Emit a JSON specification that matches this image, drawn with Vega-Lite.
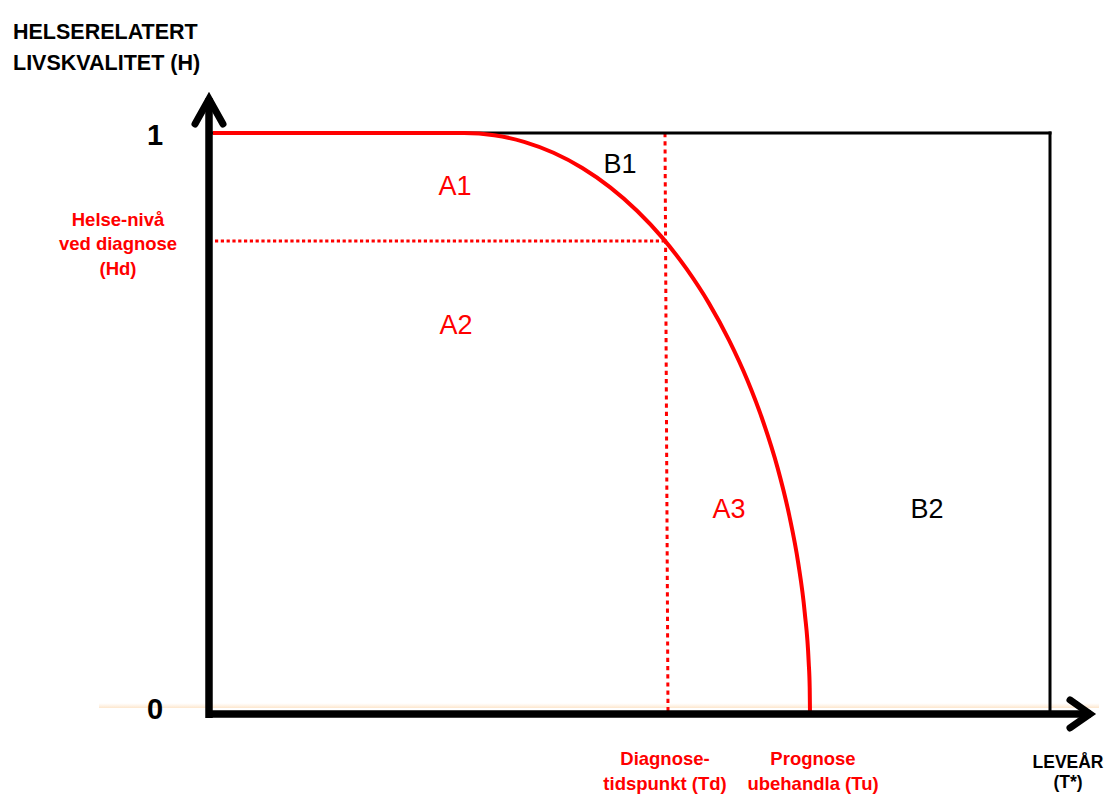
{
  "$schema": "https://vega.github.io/schema/vega-lite/v6.json",
  "width": 1106,
  "height": 794,
  "autosize": {"type": "none"},
  "padding": 0,
  "background": "white",
  "config": {"view": {"stroke": null}},
  "datasets": {
    "glow": [{"x": -1.1, "x2": 8.9, "y": 0.0086, "y2": 0.017}],
    "guides": [
      {"dir": "h", "x": 0.06, "y": 0.8138, "x2": 4.56, "y2": 0.8138},
      {"dir": "v", "x": 4.56, "y": 1.0, "x2": 4.59, "y2": 0.0}
    ],
    "frame": [
      {"x": 0.0, "y": 1.0, "x2": 8.41, "y2": 1.0},
      {"x": 8.41, "y": 1.0, "x2": 8.41, "y2": 0.0}
    ],
    "curve": [
      {"x": 0.04, "y": 1.0},
      {"x": 2.55, "y": 1.0},
      {"x": 2.852, "y": 0.9962},
      {"x": 3.151, "y": 0.9848},
      {"x": 3.445, "y": 0.9659},
      {"x": 3.733, "y": 0.9397},
      {"x": 4.012, "y": 0.9063},
      {"x": 4.28, "y": 0.866},
      {"x": 4.535, "y": 0.8192},
      {"x": 4.774, "y": 0.766},
      {"x": 4.997, "y": 0.7071},
      {"x": 5.2, "y": 0.6428},
      {"x": 5.384, "y": 0.5736},
      {"x": 5.546, "y": 0.5},
      {"x": 5.686, "y": 0.4226},
      {"x": 5.801, "y": 0.342},
      {"x": 5.892, "y": 0.2588},
      {"x": 5.957, "y": 0.1736},
      {"x": 5.997, "y": 0.0872},
      {"x": 6.007, "y": 0.0436},
      {"x": 6.01, "y": 0.0}
    ],
    "axes": [
      {"x": 0.0, "y": -0.0086, "x2": 0.0, "y2": 1.06},
      {"x": -0.03, "y": -0.0017, "x2": 8.82, "y2": -0.0017}
    ],
    "arrows": [
      {"arrow": "y", "o": 1, "x": -0.14, "y": 1.0155},
      {"arrow": "y", "o": 2, "x": 0.0, "y": 1.0586},
      {"arrow": "y", "o": 3, "x": 0.14, "y": 1.0155},
      {"arrow": "x", "o": 1, "x": 8.61, "y": 0.0224},
      {"arrow": "x", "o": 2, "x": 8.81, "y": -0.0017},
      {"arrow": "x", "o": 3, "x": 8.61, "y": -0.0258}
    ],
    "labels": [
      {"group": "title", "text": "HELSERELATERT\nLIVSKVALITET (H)", "x": -1.96, "y": 1.1621},
      {"group": "tick", "text": "1", "x": -0.54, "y": 0.9793},
      {"group": "tick", "text": "0", "x": -0.54, "y": -0.0103},
      {"group": "red", "text": "Helse-nivå\nved diagnose\n(Hd)", "x": -0.91, "y": 0.8397},
      {"group": "red", "text": "Diagnose-\ntidspunkt (Td)", "x": 4.56, "y": -0.0897},
      {"group": "red", "text": "Prognose\nubehandla (Tu)", "x": 6.04, "y": -0.0897},
      {"group": "xtitle", "text": "LEVEÅR\n(T*)", "x": 8.59, "y": -0.0948},
      {"group": "regionRed", "text": "A1", "x": 2.46, "y": 0.893},
      {"group": "regionRed", "text": "A2", "x": 2.47, "y": 0.653},
      {"group": "regionRed", "text": "A3", "x": 5.2, "y": 0.336},
      {"group": "regionBlack", "text": "B1", "x": 4.11, "y": 0.931},
      {"group": "regionBlack", "text": "B2", "x": 7.18, "y": 0.336}
    ]
  },
  "encoding": {
    "x": {"field": "x", "type": "quantitative", "scale": {"domain": [-2.09, 8.97], "nice": false, "zero": false}, "axis": null},
    "y": {"field": "y", "type": "quantitative", "scale": {"domain": [-0.1397, 1.2293], "nice": false, "zero": false}, "axis": null}
  },
  "layer": [
    {
      "data": {"name": "glow"},
      "mark": {"type": "rect", "fill": {"gradient": "linear", "x1": 0, "y1": 0, "x2": 0, "y2": 1, "stops": [{"offset": 0, "color": "rgba(253,235,214,0)"}, {"offset": 1, "color": "#fde6cc"}]}},
      "encoding": {"x2": {"field": "x2"}, "y2": {"field": "y2"}}
    },
    {
      "data": {"name": "guides"},
      "transform": [{"filter": "datum.dir == 'h'"}],
      "mark": {"type": "rule", "color": "#ff0000", "strokeWidth": 3, "strokeDash": [3.2, 2.6]},
      "encoding": {"x2": {"field": "x2"}, "y2": {"field": "y2"}}
    },
    {
      "data": {"name": "guides"},
      "transform": [{"filter": "datum.dir == 'v'"}],
      "mark": {"type": "rule", "color": "#ff0000", "strokeWidth": 3, "strokeDash": [4.2, 4]},
      "encoding": {"x2": {"field": "x2"}, "y2": {"field": "y2"}}
    },
    {
      "data": {"name": "frame"},
      "mark": {"type": "rule", "color": "#000000", "strokeWidth": 3, "strokeCap": "square"},
      "encoding": {"x2": {"field": "x2"}, "y2": {"field": "y2"}}
    },
    {
      "data": {"name": "curve"},
      "mark": {"type": "line", "color": "#ff0000", "strokeWidth": 4, "interpolate": "monotone"},
      "encoding": {}
    },
    {
      "data": {"name": "axes"},
      "mark": {"type": "rule", "color": "#000000", "strokeWidth": 7.5},
      "encoding": {"x2": {"field": "x2"}, "y2": {"field": "y2"}}
    },
    {
      "data": {"name": "arrows"},
      "mark": {"type": "line", "color": "#000000", "strokeWidth": 7, "strokeCap": "round", "strokeJoin": "miter"},
      "encoding": {"detail": {"field": "arrow"}, "order": {"field": "o"}}
    },
    {
      "data": {"name": "labels"},
      "transform": [{"filter": "datum.group == 'title'"}],
      "mark": {"type": "text", "font": "Liberation Sans, Arial, sans-serif", "fontWeight": "bold", "fontSize": 21.5, "align": "left", "baseline": "alphabetic", "lineBreak": "\n", "lineHeight": 31, "color": "#000000"},
      "encoding": {"text": {"field": "text"}}
    },
    {
      "data": {"name": "labels"},
      "transform": [{"filter": "datum.group == 'tick'"}],
      "mark": {"type": "text", "font": "Liberation Sans, Arial, sans-serif", "fontWeight": "bold", "fontSize": 29, "align": "center", "baseline": "alphabetic", "color": "#000000"},
      "encoding": {"text": {"field": "text"}}
    },
    {
      "data": {"name": "labels"},
      "transform": [{"filter": "datum.group == 'red'"}],
      "mark": {"type": "text", "font": "Liberation Sans, Arial, sans-serif", "fontWeight": "bold", "fontSize": 18.5, "align": "center", "baseline": "alphabetic", "lineBreak": "\n", "lineHeight": 24.5, "color": "#ff0000"},
      "encoding": {"text": {"field": "text"}}
    },
    {
      "data": {"name": "labels"},
      "transform": [{"filter": "datum.group == 'xtitle'"}],
      "mark": {"type": "text", "font": "Liberation Sans, Arial, sans-serif", "fontWeight": "bold", "fontSize": 17.5, "align": "center", "baseline": "alphabetic", "lineBreak": "\n", "lineHeight": 20.5, "color": "#000000"},
      "encoding": {"text": {"field": "text"}}
    },
    {
      "data": {"name": "labels"},
      "transform": [{"filter": "datum.group == 'regionRed'"}],
      "mark": {"type": "text", "font": "Liberation Sans, Arial, sans-serif", "fontWeight": "normal", "fontSize": 27, "align": "center", "baseline": "alphabetic", "color": "#ff0000"},
      "encoding": {"text": {"field": "text"}}
    },
    {
      "data": {"name": "labels"},
      "transform": [{"filter": "datum.group == 'regionBlack'"}],
      "mark": {"type": "text", "font": "Liberation Sans, Arial, sans-serif", "fontWeight": "normal", "fontSize": 27, "align": "center", "baseline": "alphabetic", "color": "#000000"},
      "encoding": {"text": {"field": "text"}}
    }
  ]
}
